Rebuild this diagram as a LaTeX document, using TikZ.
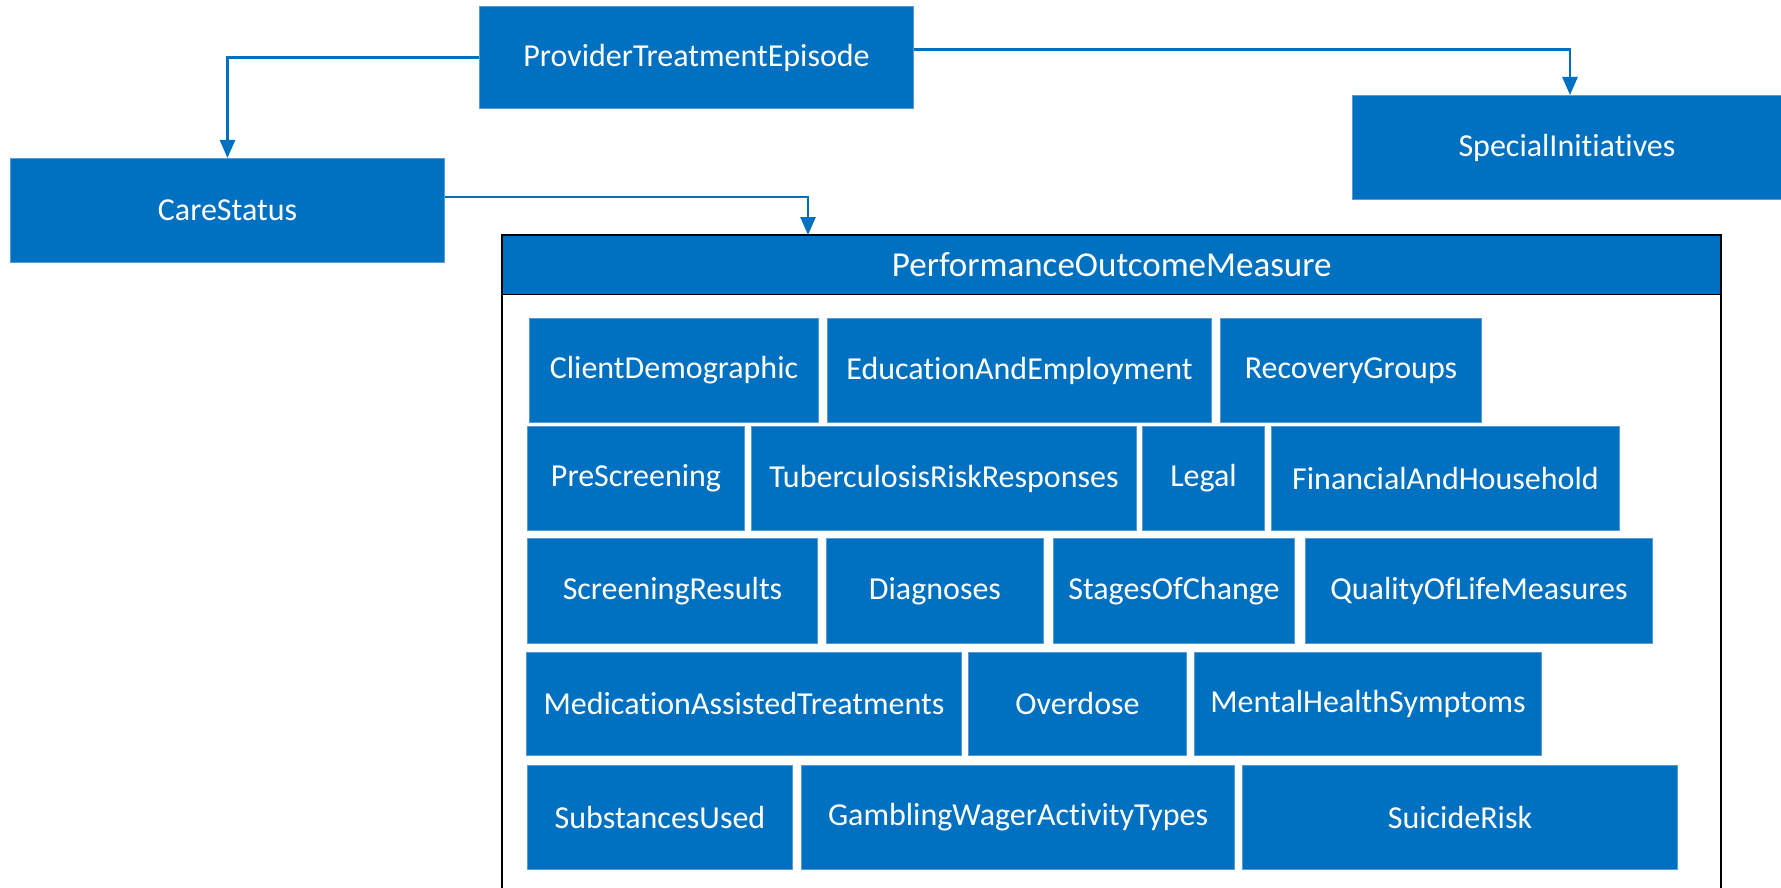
\documentclass[tikz,border=0pt]{standalone}
\usepackage{fontspec}
\setmainfont{Carlito}[Ligatures={NoCommon}]
\usetikzlibrary{arrows.meta}
\definecolor{boxblue}{HTML}{0070C0}
\definecolor{edgeblue}{HTML}{5B9BD5}
\tikzset{
  bx/.style={rectangle, fill=boxblue, draw=edgeblue, line width=1pt, inner sep=0pt,
    anchor=north west, text=white, font=\fontsize{32}{38}\selectfont},
  conn/.style={draw=boxblue, line width=2.5pt, -{Triangle[length=18pt,width=15pt]}},
}
\newcommand{\bxn}[7]{\node[bx, minimum width=#4pt, minimum height=#5pt] (#1) at (#2,#3) {#6};}
\begin{document}
\begin{tikzpicture}[x=1pt,y=-1pt]
\useasboundingbox (0,0) rectangle (1781,888);
% top level boxes
\bxn{pte}{479}{6}{434}{102}{ProviderTreatmentEpisode}{}
\bxn{si}{1352}{95}{429}{104}{SpecialInitiatives}{}
\bxn{care}{10}{158}{434}{104}{CareStatus}{}
% container
\node[rectangle, fill=boxblue, inner sep=0pt, anchor=north west, minimum width=1219pt, minimum height=59pt,
  text=white, font=\fontsize{35}{42}\selectfont] (pom) at (502,235) {PerformanceOutcomeMeasure};
\draw[black, line width=1.5pt] (pom.south west) -- (pom.south east);
\draw[black, line width=2.5pt] (502,890) -- (502,235) -- (1721,235) -- (1721,890);
\coordinate (pomtop) at (808,235);
% row 1
\bxn{cd}{529}{318}{289}{104}{ClientDemographic}{}
\bxn{ee}{827}{318}{384}{104}{EducationAndEmployment}{}
\bxn{rg}{1220}{318}{261}{104}{RecoveryGroups}{}
% row 2
\bxn{ps}{527}{426}{217}{104}{PreScreening}{}
\bxn{tb}{751}{426}{385}{104}{TuberculosisRiskResponses}{}
\bxn{lg}{1142}{426}{122}{104}{Legal}{}
\bxn{fh}{1271}{426}{348}{104}{FinancialAndHousehold}{}
% row 3
\bxn{sr}{527}{538}{290}{105}{ScreeningResults}{}
\bxn{dg}{826}{538}{217}{105}{Diagnoses}{}
\bxn{sc}{1053}{538}{241}{105}{StagesOfChange}{}
\bxn{ql}{1305}{538}{347}{105}{QualityOfLifeMeasures}{}
% row 4
\bxn{mat}{526}{652}{435}{103}{MedicationAssistedTreatments}{}
\bxn{od}{968}{652}{218}{103}{Overdose}{}
\bxn{mh}{1194}{652}{347}{103}{MentalHealthSymptoms}{}
% row 5
\bxn{su}{527}{765}{265}{104}{SubstancesUsed}{}
\bxn{gw}{801}{765}{433}{104}{GamblingWagerActivityTypes}{}
\bxn{sk}{1242}{765}{435}{104}{SuicideRisk}{}
% connectors
\draw[conn] (pte.west) -| (care.north);
\draw[conn] ([yshift=8pt]pte.east) -| ([xshift=3pt]si.north);
\draw[conn] ([yshift=13.5pt]care.east) -| (pomtop);
\end{tikzpicture}
\end{document}
